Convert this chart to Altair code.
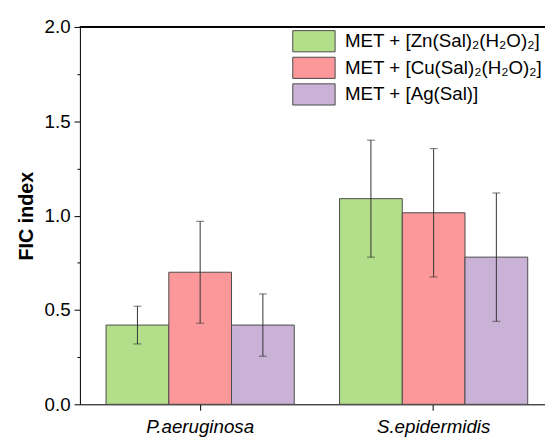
import altair as alt
import pandas as pd

groups = ["P.aeruginosa", "S.epidermidis"]
series = ["MET + [Zn(Sal)₂(H₂O)₂]", "MET + [Cu(Sal)₂(H₂O)₂]", "MET + [Ag(Sal)]"]
colors = ["#b3df8a", "#fc9899", "#c9b2d6"]
means_pa = [0.42, 0.70, 0.42]
err_pa = [0.10, 0.27, 0.165]
means_se = [1.09, 1.015, 0.78]
err_se = [0.31, 0.34, 0.34]
y_ticks = [0, 0.25, 0.5, 0.75, 1.0, 1.25, 1.5, 1.75, 2.0]

rows = []
for g, means, errs in [(groups[0], means_pa, err_pa), (groups[1], means_se, err_se)]:
    for s, m, e in zip(series, means, errs):
        rows.append({"group": g, "series": s, "mean": m, "lo": m - e, "hi": m + e})
df = pd.DataFrame(rows)

FONT = "Liberation Sans"

x_enc = alt.X("group:N", sort=groups,
              scale=alt.Scale(paddingInner=0.194, paddingOuter=0.112),
              axis=alt.Axis(title=None, labelFontSize=19, labelFontStyle="italic",
                            labelColor="black", labelFont=FONT, labelAngle=0,
                            tickSize=6, tickColor="black", domainColor="black",
                            labelPadding=8))
xo_enc = alt.XOffset("series:N", sort=series,
                     scale=alt.Scale(paddingInner=0, paddingOuter=0))
y_scale = alt.Scale(domain=[0, 2.0], nice=False, zero=True)

base = alt.Chart(df).encode(x=x_enc, xOffset=xo_enc)

bars = base.mark_bar(stroke="#4a4a4a", strokeWidth=1, opacity=1).encode(
    y=alt.Y("mean:Q", scale=y_scale,
            axis=alt.Axis(title="FIC index", titleFontSize=20, titleFontWeight="bold",
                          titleFont=FONT, titleColor="black", titlePadding=8,
                          values=y_ticks,
                          labelExpr="datum.value % 0.5 === 0 ? format(datum.value, '.1f') : ''",
                          labelFontSize=19, labelFont=FONT, labelColor="black",
                          tickSize={"condition": {"test": "datum.value % 0.5 === 0", "value": 6}, "value": 3},
                          tickColor="black", domainColor="black", grid=False,
                          labelPadding=4)),
    color=alt.Color("series:N", sort=series,
                    scale=alt.Scale(domain=series, range=colors),
                    legend=alt.Legend(title=None, orient="none", legendX=226, legendY=3,
                                      symbolType="M-2,-1H2V1H-2Z", symbolSize=462,
                                      symbolStrokeColor="#4a4a4a", symbolStrokeWidth=1,
                                      symbolOpacity=1,
                                      labelFontSize=19, labelFont=FONT, labelColor="black",
                                      labelLimit=400, labelOffset=20, rowPadding=0,
                                      padding=0)),
)

rules = base.mark_rule(color="#333333", strokeWidth=1).encode(
    y=alt.Y("lo:Q", scale=y_scale), y2="hi:Q")
cap_hi = base.mark_tick(color="#333333", size=8, thickness=1).encode(
    y=alt.Y("hi:Q", scale=y_scale))
cap_lo = base.mark_tick(color="#333333", size=8, thickness=1).encode(
    y=alt.Y("lo:Q", scale=y_scale))

top_line = alt.Chart(df).mark_rule(color="black", strokeWidth=1).encode(
    y=alt.Y(datum=2.0, scale=y_scale))

chart = alt.layer(bars, rules, cap_hi, cap_lo, top_line).properties(
    width=481, height=383,
    autosize=alt.AutoSizeParams(type="none"),
    padding={"left": 73, "top": 16, "right": -9, "bottom": 33},
).configure_view(stroke=None).configure(font=FONT)

chart.save("out.html", embed_options={"renderer": "svg", "actions": False})
